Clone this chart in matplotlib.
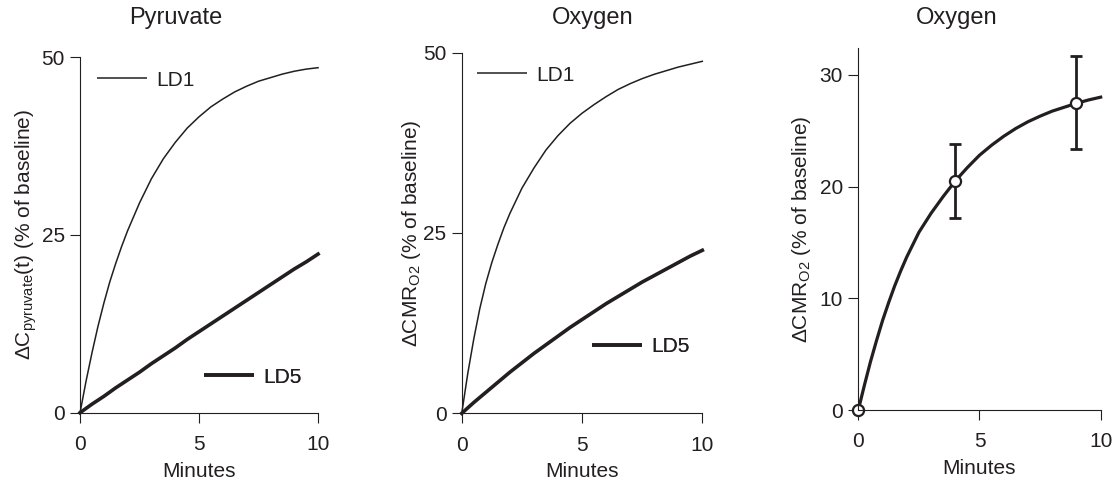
import numpy as np
import matplotlib.pyplot as plt
from matplotlib.lines import Line2D

plt.rcParams['font.family'] = ['Liberation Sans', 'DejaVu Sans']
plt.rcParams['mathtext.default'] = 'regular'

ink = '#231f20'

# time axis (minutes), finer near the start where the curves bend most
minutes = [0, 0.25, 0.5, 0.75, 1, 1.25, 1.5, 1.75, 2, 2.5, 3, 3.5, 4, 4.5, 5,
           5.5, 6, 6.5, 7, 7.5, 8, 8.5, 9, 9.5, 10]

# Pyruvate, % of baseline
pyr_ld1 = [0, 4.4, 8.4, 12.1, 15.4, 18.4, 21.0, 23.4, 25.6, 29.5, 32.9, 35.7,
           38.0, 40.0, 41.6, 43.0, 44.1, 45.1, 45.9, 46.6, 47.1, 47.6, 48.0,
           48.3, 48.5]
pyr_ld5 = [0, 0.6, 1.2, 1.75, 2.3, 2.9, 3.5, 4.05, 4.6, 5.7, 6.9, 8.0, 9.1,
           10.3, 11.4, 12.5, 13.6, 14.7, 15.8, 16.9, 18.0, 19.1, 20.2, 21.2,
           22.3]

# Oxygen (CMRO2), % of baseline
oxy_ld1 = [0, 5.5, 10.3, 14.5, 18.0, 20.9, 23.4, 25.7, 27.7, 31.2, 34.0, 36.5,
           38.5, 40.2, 41.6, 42.8, 43.9, 44.9, 45.7, 46.4, 47.0, 47.5, 48.0,
           48.4, 48.8]
oxy_ld5 = [0, 0.75, 1.5, 2.2, 2.9, 3.6, 4.3, 5.0, 5.7, 7.0, 8.3, 9.5, 10.7,
           11.9, 13.0, 14.1, 15.2, 16.2, 17.2, 18.2, 19.1, 20.0, 20.9, 21.8,
           22.6]

# Oxygen fit and measured points
oxy_fit = [0, 2.2, 4.3, 6.2, 8.0, 9.6, 11.1, 12.45, 13.7, 15.9, 17.6, 19.1,
           20.5, 21.7, 22.8, 23.7, 24.5, 25.2, 25.8, 26.3, 26.75, 27.1, 27.45,
           27.75, 28.0]
meas_t = [0, 4, 9]
meas_v = [0, 20.5, 27.5]
meas_err = [0, 3.3, 4.15]

fig = plt.figure(figsize=(11.18, 4.8), dpi=100)
ax1 = fig.add_axes([0.0716, 0.1402, 0.2129, 0.7410])
ax2 = fig.add_axes([0.4130, 0.1389, 0.2152, 0.7514])
ax3 = fig.add_axes([0.7677, 0.1458, 0.2168, 0.7542])

fs = 15


def style(ax, ylim, yticks):
    ax.set_xlim(0, 10)
    ax.set_ylim(*ylim)
    ax.set_xticks([0, 5, 10])
    ax.set_yticks(yticks)
    for s in ['top', 'right']:
        ax.spines[s].set_visible(False)
    for s in ['left', 'bottom']:
        ax.spines[s].set_color(ink)
        ax.spines[s].set_linewidth(0.8)
    ax.tick_params(direction='out', length=7, width=0.8, color=ink,
                   labelcolor=ink, labelsize=fs)
    ax.tick_params(axis='x', pad=9)
    ax.tick_params(axis='y', pad=4)
    ax.set_xlabel('Minutes', fontsize=fs, color=ink, labelpad=5.5)


def add_key(ax, line, label, x, y):
    h = Line2D([], [], color=ink, lw=line.get_linewidth(), solid_capstyle='butt')
    leg = ax.legend([h], [label], loc='center left', bbox_to_anchor=(x, y),
                    frameon=False, fontsize=fs, handlelength=2.4,
                    handletextpad=0.45, borderpad=0, borderaxespad=0)
    for t in leg.get_texts():
        t.set_color(ink)
    ax.add_artist(leg)


# panel 1: pyruvate
l1, = ax1.plot(minutes, pyr_ld1, color=ink, lw=1.1, clip_on=False)
l5, = ax1.plot(minutes, pyr_ld5, color=ink, lw=2.6, clip_on=False)
style(ax1, (0, 50), [0, 25, 50])
ax1.set_ylabel(r'$\Delta$C$_{pyruvate}$(t) (% of baseline)', fontsize=fs,
               color=ink, labelpad=2)
add_key(ax1, l1, 'LD1', 0.071, 0.935)
add_key(ax1, l5, 'LD5', 0.52, 0.10)

# panel 2: oxygen model curves
m1, = ax2.plot(minutes, oxy_ld1, color=ink, lw=1.1, clip_on=False)
m5, = ax2.plot(minutes, oxy_ld5, color=ink, lw=2.6, clip_on=False)
style(ax2, (0, 50), [0, 25, 50])
ax2.set_ylabel(r'$\Delta$CMR$_{O2}$ (% of baseline)', fontsize=fs,
               color=ink, labelpad=0)
add_key(ax2, m1, 'LD1', 0.065, 0.938)
add_key(ax2, m5, 'LD5', 0.54, 0.184)

# panel 3: oxygen data with fit
ax3.plot(minutes, oxy_fit, color=ink, lw=2.3, clip_on=False)
ax3.errorbar(meas_t, meas_v, yerr=meas_err, fmt='none', ecolor=ink,
             elinewidth=2, capsize=4.3, capthick=2, clip_on=False)
ax3.plot(meas_t, meas_v, 'o', ms=8, mfc='white', mec=ink, mew=1.6,
         clip_on=False, zorder=2)
style(ax3, (0, 32.4), [0, 10, 20, 30])
ax3.set_ylabel(r'$\Delta$CMR$_{O2}$ (% of baseline)', fontsize=fs,
               color=ink, labelpad=5)

# panel titles
for x, title in [(0.157, 'Pyruvate'), (0.530, 'Oxygen'), (0.856, 'Oxygen')]:
    fig.text(x, 0.9625, title, ha='center', va='center', fontsize=17, color=ink)

fig.savefig('out.png', dpi=100)
